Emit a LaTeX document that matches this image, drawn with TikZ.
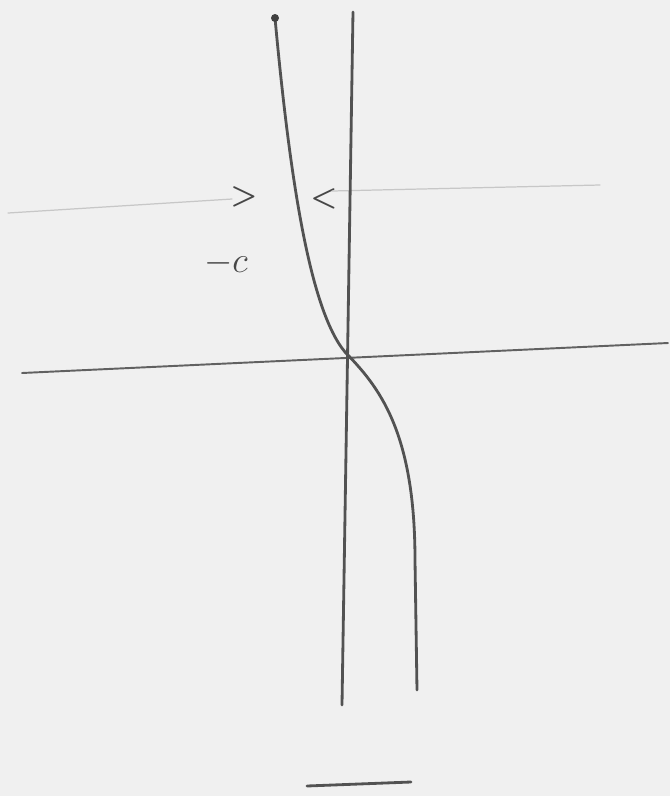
\documentclass[tikz,border=0pt]{standalone}
\usepackage{amsmath, amssymb}
\usepackage{tikz}
\usepackage{xcolor}
\usetikzlibrary{positioning}
\tikzset{
    pen/.style={draw=black!68, line width=1.6pt, line cap=round},
    axis/.style={draw=black!62, line width=1.1pt, line cap=round},
    faint/.style={draw=black!22, line width=0.7pt, line cap=round},
    sym/.style={text=black!72, font=\LARGE\boldmath, inner sep=0pt}
}

\begin{document}
\begin{tikzpicture}[x=0.02cm, y=-0.02cm]
\useasboundingbox[fill=black!6] (0,0) rectangle (670,796);

% --- Points ---
\coordinate (ctop) at (275,18);
\coordinate (o) at (345,352);
\coordinate (cbend) at (415,560);
\coordinate (cbot) at (417,690);
\coordinate (vtop) at (353,12);
\coordinate (vbot) at (342,705);
\coordinate (hl) at (22,373);
\coordinate (hr) at (668,343);
\coordinate (fl1) at (8,213);
\coordinate (fl2) at (232,199);
\coordinate (fr1) at (332,191);
\coordinate (fr2) at (600,185);
\coordinate (bl) at (307,786);
\coordinate (br) at (411,782);

% --- Labels ---
\node[sym] (gt) at (244,197) {$>$};
\node[sym] (lt) at (324,199) {$<$};
\node[sym, font=\huge] (mc) at (226,263) {$-c$};

% --- Lines ---
\draw[faint] (fl1) -- (fl2);
\draw[faint] (fr1) -- (fr2);
\draw[axis] (hl) -- (hr);
\draw[pen] (vtop) -- (vbot);

% curve through the origin
\draw[pen] (ctop) .. controls (290,180) and (310,310) .. (o)
    .. controls (378,386) and (415,430) .. (cbend) -- (cbot);
\fill[black!75] (ctop) circle (4);

% short bar below
\draw[pen] (bl) -- (br);

\end{tikzpicture}
\end{document}
